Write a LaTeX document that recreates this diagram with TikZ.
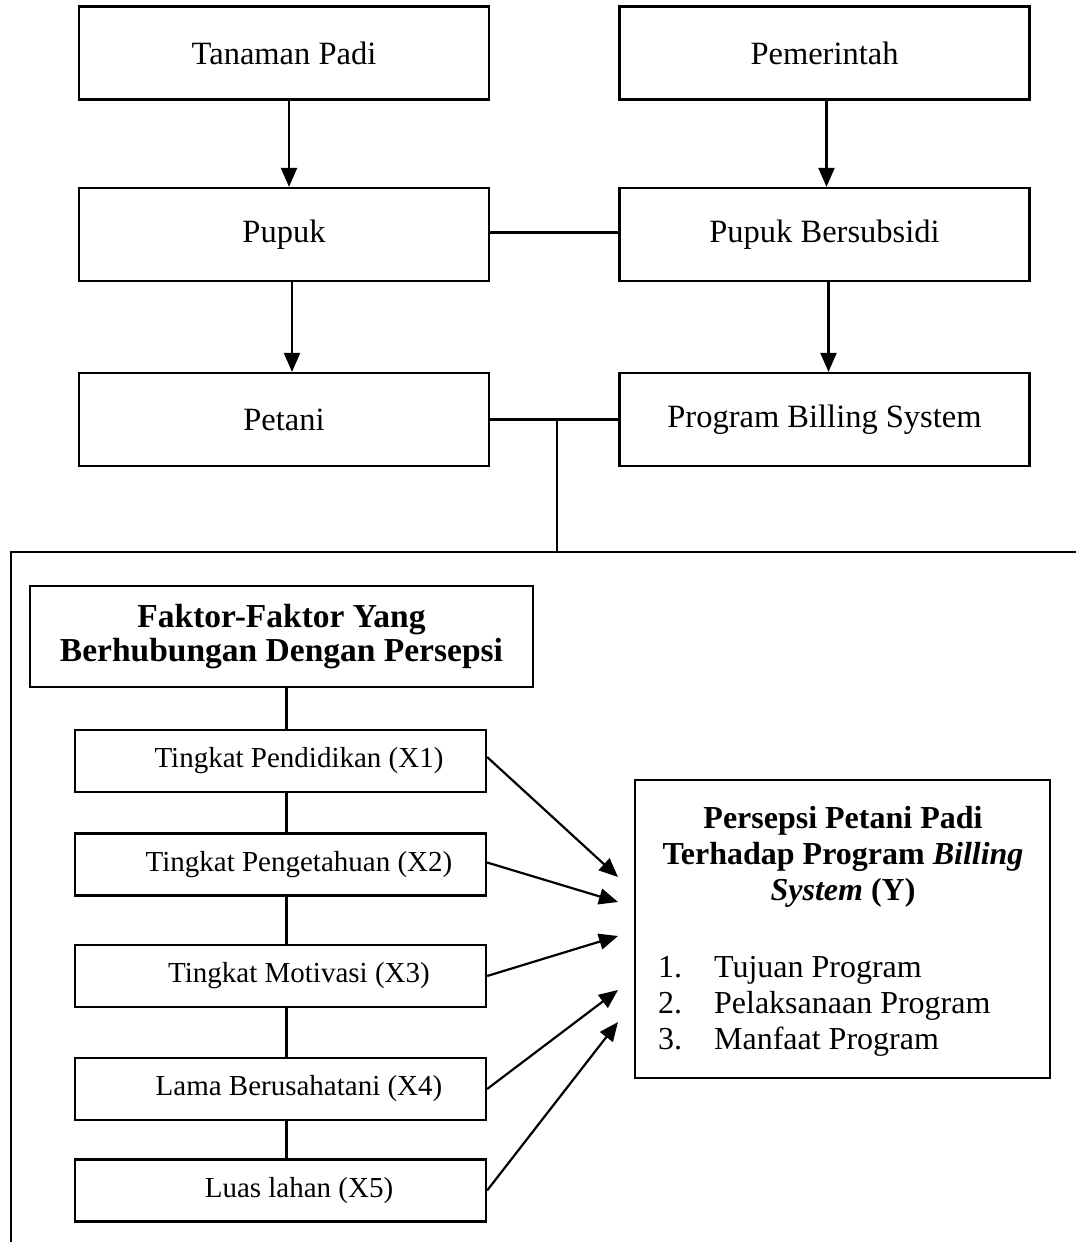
\documentclass[tikz,border=0pt]{standalone}
\usepackage{fontspec}
\setmainfont{Liberation Serif}
\usetikzlibrary{arrows.meta,calc}
\begin{document}
\begin{tikzpicture}[x=1pt,y=-1pt,
  line width=2.2pt,
  box/.style={draw,line width=2.2pt,rectangle,inner sep=0pt,align=center},
  topbox/.style={box,minimum width=410pt,minimum height=93pt,font=\fontsize{32.5}{38}\selectfont},
  smallbox/.style={box,minimum width=411pt,minimum height=62pt,font=\fontsize{29}{34}\selectfont},
  boldbox/.style={box,minimum width=503pt,minimum height=101pt,font=\fontsize{33.5}{34}\selectfont\bfseries},
  arr/.style={-{Triangle[length=19pt,width=16pt]},line width=2.2pt},
  lst/.style={inner sep=0pt,anchor=base west,font=\fontsize{32}{36}\selectfont}
]
\useasboundingbox (0,0) rectangle (1076,1242);

% top section
\node[topbox] (tp) at (284,53) {Tanaman Padi};
\node[topbox] (pem) at (824.5,53) {Pemerintah};
\node[topbox] (pupuk) at (284,234.5) {Pupuk};
\node[topbox] (pb) at (824.5,234.5) {Pupuk Bersubsidi};
\node[topbox] (petani) at (284,419.5) {Petani};
\node[topbox] (pbs) at (824.5,419.5) {Program Billing System};

\draw[arr] ([xshift=5pt]tp.south) -- ([xshift=5pt]pupuk.north);
\draw[arr] ([xshift=2pt]pem.south) -- ([xshift=2pt]pb.north);
\draw[arr] ([xshift=8pt]pupuk.south) -- ([xshift=8pt]petani.north);
\draw[arr] ([xshift=4pt]pb.south) -- ([xshift=4pt]pbs.north);
\draw ([yshift=2pt]pupuk.east) -- ([yshift=2pt]pb.west);
\draw (petani.east) -- (pbs.west);

\coordinate (j) at (557,419.5);
\coordinate (jf) at (557,552);
\draw (j) -- (jf);

% frame
\coordinate (fr) at (1076,552);
\coordinate (fl) at (11,552);
\coordinate (fb) at (11,1242);
\draw (fr) -- (fl) -- (fb);

% factors
\node[boldbox] (fak) at (281.5,636.5) {Faktor-Faktor Yang\\Berhubungan Dengan Persepsi};
\node[smallbox] (x1) at (280.5,761) {\hspace*{37pt}Tingkat Pendidikan (X1)};
\node[smallbox] (x2) at (280.5,864.5) {\hspace*{37pt}Tingkat Pengetahuan (X2)};
\node[smallbox] (x3) at (280.5,976) {\hspace*{37pt}Tingkat Motivasi (X3)};
\node[smallbox] (x4) at (280.5,1089) {\hspace*{37pt}Lama Berusahatani (X4)};
\node[smallbox] (x5) at (280.5,1190.5) {\hspace*{37pt}Luas lahan (X5)};

\draw ([xshift=5pt]fak.south) -- ([xshift=6pt]x1.north);
\draw ([xshift=6pt]x1.south) -- ([xshift=6pt]x2.north);
\draw ([xshift=6pt]x2.south) -- ([xshift=6pt]x3.north);
\draw ([xshift=6pt]x3.south) -- ([xshift=6pt]x4.north);
\draw ([xshift=6pt]x4.south) -- ([xshift=6pt]x5.north);

% perception box
\node[box,minimum width=415pt,minimum height=298pt] (py) at (842.5,929) {};
\node[inner sep=0pt,align=center,font=\fontsize{32}{36}\selectfont\bfseries] (pyt) at (843,857)
  {Persepsi Petani Padi\\Terhadap Program \textit{Billing}\\\textit{System} (Y)};
\node[lst] (n1) at (657,977) {1.};
\node[lst] (n2) at (657,1013) {2.};
\node[lst] (n3) at (657,1049) {3.};
\node[lst] (i1) at (713,977) {Tujuan Program};
\node[lst] (i2) at (713,1013) {Pelaksanaan Program};
\node[lst] (i3) at (713,1049) {Manfaat Program};

\coordinate (e1) at (618,877);
\coordinate (e2) at (618,902);
\coordinate (e3) at (618,936);
\coordinate (e4) at (618,990);
\coordinate (e5) at (618,1022);
\draw[arr] ($(x1.east)+(0,-4)$) -- (e1);
\draw[arr] ($(x2.east)+(0,-2)$) -- (e2);
\draw[arr] (x3.east) -- (e3);
\draw[arr] (x4.east) -- (e4);
\draw[arr] (x5.east) -- (e5);
\end{tikzpicture}
\end{document}
